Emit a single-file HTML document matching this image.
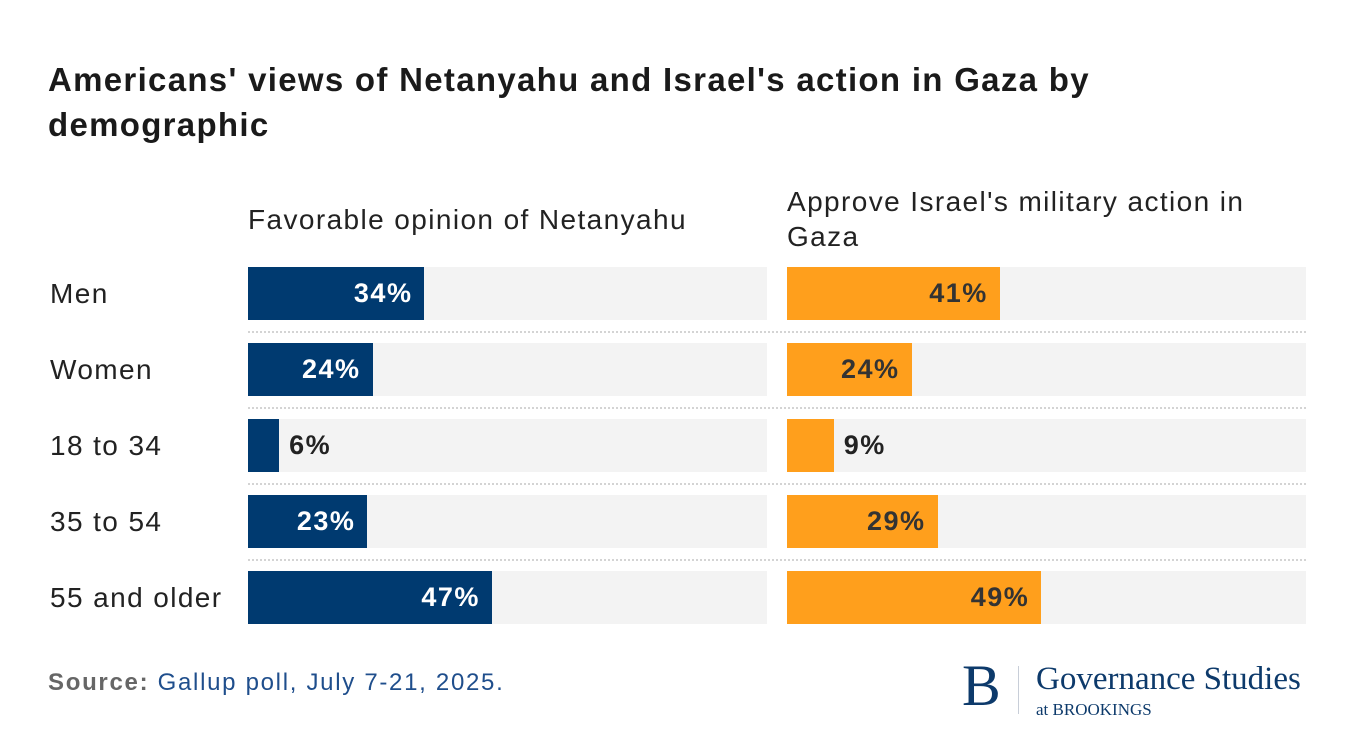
<!DOCTYPE html>
<html><head><meta charset="utf-8"><style>
body{margin:0;width:1364px;height:738px;background:#fff;font-family:"Liberation Sans",sans-serif;position:relative;overflow:hidden;color:#222}
.abs{position:absolute}
</style></head><body>
<div class="abs" style="left:48px;top:57px;font-size:33px;letter-spacing:1.3px;font-weight:bold;line-height:45px;width:1120px;color:#1a1a1a">Americans' views of Netanyahu and Israel's action in Gaza by demographic</div>
<div class="abs" style="left:248px;top:204px;font-size:28px;letter-spacing:1.4px">Favorable opinion of Netanyahu</div>
<div class="abs" style="left:787px;top:184px;font-size:28px;letter-spacing:1.4px;line-height:35px;width:480px">Approve Israel's military action in Gaza</div>
<div id="chart"></div>
<div class="abs" style="left:48px;top:669px;font-size:24px;letter-spacing:1.7px;color:#1f4e8c"><b style="color:#666">Source:</b> Gallup poll, July 7-21, 2025.</div>
<div class="abs" style="left:962px;top:662px;height:56px;font-family:'Liberation Serif',serif;color:#0d3a6b">
<div class="abs" style="left:0;top:-6px;font-size:58px;line-height:60px">B</div>
<div class="abs" style="left:56px;top:4px;width:1px;height:48px;background:#c8ced8"></div>
<div class="abs" style="left:74px;top:0;font-size:33px;white-space:nowrap;line-height:34px">Governance Studies</div>
<div class="abs" style="left:74px;top:38px;font-size:17px;white-space:nowrap">at BROOKINGS</div>
</div>
<script>
const categories=["Men","Women","18 to 34","35 to 54","55 and older"];
const netanyahu=[34,24,6,23,47];
const gaza=[41,24,9,29,49];
const c=document.getElementById('chart');
const W=519,top0=267,pitch=76,h=53;
function x(v){return v/100*W;}
function mk(css,txt){const d=document.createElement('div');d.className='abs';d.style.cssText=css;if(txt!=null)d.textContent=txt;c.appendChild(d);return d;}
categories.forEach((cat,i)=>{
 const y=top0+i*pitch;
 let l=mk(`left:50px;top:${y}px;height:${h}px;line-height:${h}px;font-size:28px;letter-spacing:1.4px`,cat);
 
 
 if(i>0){let s=mk(`left:248px;top:${y-12}px;width:1058px;border-top:2px dotted #d4d4d4`);
 
 }
 [[248,netanyahu[i],'#003a70','#fff'],[787,gaza[i],'#ff9f1c','#333']].forEach(([x0,v,col,tc],k)=>{
  let bg=mk(`left:${x0}px;top:${y}px;width:${W}px;height:${h}px;background:#f3f3f3`);
  
  
  let b=mk(`left:${x0}px;top:${y}px;width:${x(v)}px;height:${h}px;background:${col}`);
  
  
  const inside=x(v)>70;
  let t=mk(`top:${y}px;height:${h}px;line-height:${h}px;font-size:27px;letter-spacing:1.5px;font-weight:bold;color:${inside?tc:'#222'};`+(inside?`left:${x0+x(v)-92}px;width:80px;text-align:right`:`left:${x0+x(v)+10}px`),v+'%');
  
  
 });
});
</script>
</body></html>
